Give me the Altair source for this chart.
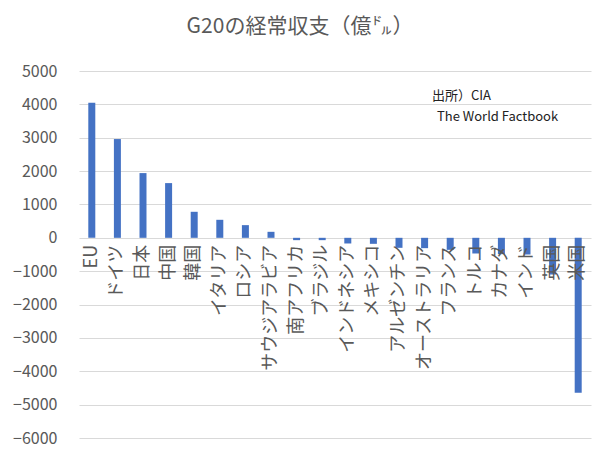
import altair as alt
import pandas as pd

FONT = "Noto Sans CJK JP"
GRAY = "#595959"

countries = ["EU", "ドイツ", "日本", "中国", "韓国", "イタリア", "ロシア", "サウジアラビア",
             "南アフリカ", "ブラジル", "インドネシア", "メキシコ", "アルゼンチン", "オーストラリア",
             "フランス", "トルコ", "カナダ", "インド", "英国", "米国"]
values = [4050, 2960, 1940, 1640, 780, 540, 380, 180,
          -70, -70, -170, -180, -300, -310,
          -360, -470, -490, -500, -1100, -4640]
y_ticks = [-6000, -5000, -4000, -3000, -2000, -1000, 0, 1000, 2000, 3000, 4000, 5000]
title_text = "G20の経常収支（億㌦）"
source_line1 = "出所）CIA"
source_line2 = "The World Factbook"

df = pd.DataFrame({"country": countries, "value": values})

xenc = alt.X("country:N", sort=countries, axis=None,
             scale=alt.Scale(paddingInner=0, paddingOuter=0))

yscale = alt.Scale(domain=[y_ticks[0], y_ticks[-1]], nice=False, zero=False)
yaxis = alt.Axis(values=y_ticks, tickCount=len(y_ticks), title=None, domain=False, ticks=False,
                 format="d", labelOverlap=False,
                 labelPadding=22, labelFontSize=16, labelColor=GRAY,
                 labelFont=FONT, gridColor="#d9d9d9", gridWidth=1,
                 labelFlush=False)

bars = alt.Chart(df).mark_bar(size=7, color="#4472C4").encode(
    x=xenc,
    y=alt.Y("value:Q", scale=yscale, axis=yaxis),
)

labels = alt.Chart(df).mark_text(
    angle=270, align="right", baseline="middle", dx=-7,
    fontSize=18, font=FONT, color=GRAY,
).encode(
    x=xenc,
    y=alt.Y(datum=0, scale=yscale, axis=yaxis),
    text="country:N",
)

note1 = alt.Chart(df.head(1)).mark_text(
    align="left", baseline="alphabetic", fontSize=13, font=FONT, color="#222222"
).encode(x=alt.value(353), y=alt.value(29), text=alt.value(source_line1))

note2 = alt.Chart(df.head(1)).mark_text(
    align="left", baseline="alphabetic", fontSize=13, font=FONT, color="#222222"
).encode(x=alt.value(358), y=alt.value(50), text=alt.value(source_line2))

chart = alt.layer(bars, labels, note1, note2).properties(
    width=512, height=367,
    padding={"left": 71, "top": 63, "right": 14, "bottom": 16},
    autosize="none",
    title=alt.Title(title_text, fontSize=21, color=GRAY, font=FONT,
                    fontWeight="normal", dx=-35, offset=26),
).configure_view(stroke=None)

chart.save("out.html", embed_options={"renderer": "svg", "actions": False})
